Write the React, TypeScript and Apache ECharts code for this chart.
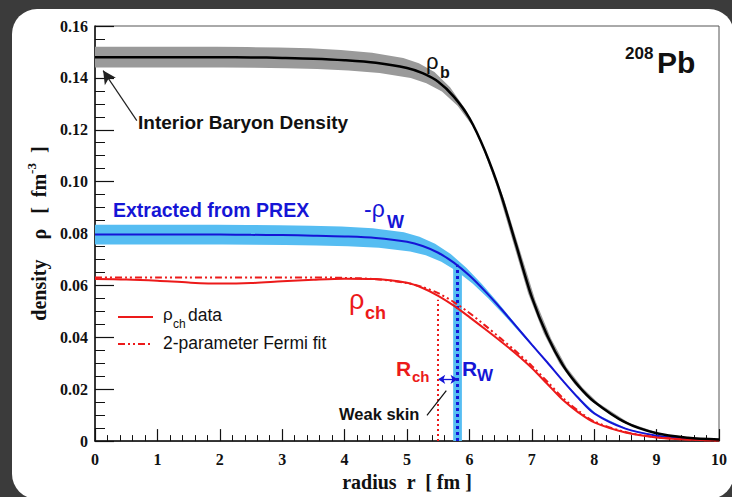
import React, { useEffect, useRef } from 'react';
import * as echarts from 'echarts';

// radius r [fm]
const radius = [0, 0.5, 1, 1.5, 2, 2.5, 3, 3.5, 4, 4.5, 5, 5.25, 5.5, 5.75, 6, 6.25, 6.5, 6.75, 7, 7.25, 7.5, 7.75, 8, 8.5, 9, 9.5, 10];
// interior baryon density rho_b
const baryon = [0.148, 0.148, 0.148, 0.148, 0.148, 0.1479, 0.1477, 0.1474, 0.1468, 0.1458, 0.1438, 0.1418, 0.1385, 0.1328, 0.1245, 0.1118, 0.0955, 0.0755, 0.0555, 0.0405, 0.0292, 0.0212, 0.0152, 0.0072, 0.003, 0.0013, 0.0006];
// -rho_W extracted from PREX
const weak = [0.0796, 0.0796, 0.0796, 0.0796, 0.0796, 0.0795, 0.0794, 0.0792, 0.0789, 0.0783, 0.0768, 0.0752, 0.0726, 0.0688, 0.0638, 0.0578, 0.0512, 0.0442, 0.0372, 0.0303, 0.0232, 0.0165, 0.0107, 0.0048, 0.0021, 0.0009, 0.0004];
// rho_ch data
const chargeData = [0.0625, 0.0623, 0.0618, 0.0611, 0.0607, 0.0609, 0.0616, 0.0622, 0.0626, 0.0625, 0.061, 0.059, 0.056, 0.0522, 0.0478, 0.0432, 0.0385, 0.0336, 0.0282, 0.022, 0.0158, 0.011, 0.0072, 0.0033, 0.0014, 0.0006, 0.0002];
// 2-parameter Fermi fit
const chargeFit = [0.0631, 0.0631, 0.0631, 0.0631, 0.0631, 0.0631, 0.0631, 0.0631, 0.0629, 0.0624, 0.0609, 0.0594, 0.057, 0.0536, 0.0494, 0.0446, 0.0396, 0.0345, 0.029, 0.0229, 0.0166, 0.0116, 0.0076, 0.0035, 0.0015, 0.0006, 0.0002];

const rCh = 5.5;
const rChTop = 0.0545;
const rW = 5.81;
const rWTop = 0.068;
const rWErr = 0.07;
const skinArrowY = 0.0238;

const BLUE = '#1515d6';
const RED = '#ec1a1a';
const SANS = '"Liberation Sans", Arial, sans-serif';
const SERIF = '"Liberation Serif", "Times New Roman", serif';

const pair = (ys: number[]) => radius.map((r, i) => [r, ys[i]]);

function band(ys: number[], f: number, dr: number, color: string) {
  return {
    type: 'custom',
    coordinateSystem: 'cartesian2d',
    clip: true,
    silent: true,
    z: 1,
    data: [[0, 0]],
    renderItem: (_p: any, api: any) => {
      const up = [api.coord([-0.5, ys[0] * (1 + f)])].concat(
        radius.map((r, i) => api.coord([r - dr, ys[i] * (1 + f)]))
      );
      const lo = [api.coord([-0.5, ys[0] * (1 - f)])].concat(
        radius.map((r, i) => api.coord([r + dr, ys[i] * (1 - f)]))
      ).reverse();
      return { type: 'polygon', shape: { points: up.concat(lo) }, style: { fill: color } };
    },
  };
}

function txt(x: number, y: number, text: string, font: string, fill: string) {
  return { type: 'text', x, y, z: 100, style: { text, font, fill, align: 'left', verticalAlign: 'top' } };
}

const SMOOTH = 0.3;

export default function App() {
  const ref = useRef<HTMLDivElement>(null);
  useEffect(() => {
    const chart = echarts.init(ref.current!, null, { renderer: 'svg' });
    chart.setOption({
      animation: false,
      backgroundColor: '#3b3b3b',
      grid: { left: 95, right: 13, top: 26, bottom: 53, show: true, borderColor: '#555', borderWidth: 1, backgroundColor: '#fff', z: 0 },
      xAxis: {
        type: 'value', min: 0, max: 10, interval: 1,
        name: 'radius  r  [ fm ]', nameLocation: 'middle', nameGap: 24,
        nameTextStyle: { fontFamily: SERIF, fontWeight: 'bold', fontSize: 20, color: '#111' },
        axisLine: { onZero: false, lineStyle: { color: '#111', width: 1.5 } },
        axisTick: { inside: true, length: 12, lineStyle: { color: '#111', width: 1.2 } },
        minorTick: { show: true, splitNumber: 5, length: 6, lineStyle: { color: '#111', width: 1 } },
        splitLine: { show: false },
        axisLabel: { fontFamily: SERIF, fontWeight: 'bold', fontSize: 16, color: '#111', margin: 10 },
      },
      yAxis: {
        type: 'value', min: 0, max: 0.16, interval: 0.02,
        name: '{a|density    ρ   [  fm}{s|-3}{a|  ]}', nameLocation: 'middle', nameGap: 44, nameRotate: 90,
        nameTextStyle: {
          rich: {
            a: { fontFamily: SERIF, fontWeight: 'bold', fontSize: 20, color: '#111', verticalAlign: 'bottom', lineHeight: 24 },
            s: { fontFamily: SERIF, fontWeight: 'bold', fontSize: 13, color: '#111', verticalAlign: 'top', lineHeight: 24 },
          },
        },
        axisLine: { onZero: false, lineStyle: { color: '#111', width: 1.5 } },
        axisTick: { inside: true, length: 19, lineStyle: { color: '#111', width: 1.2 } },
        minorTick: { show: true, splitNumber: 4, length: 10, lineStyle: { color: '#111', width: 1 } },
        splitLine: { show: false },
        axisLabel: {
          fontFamily: SERIF, fontWeight: 'bold', fontSize: 16, color: '#111', margin: 7,
          formatter: (v: number) => (v === 0 ? '0' : v.toFixed(2)),
        },
      },
      graphic: [
        { type: 'rect', z: -100, shape: { x: 12, y: 9, width: 722, height: 490, r: 25 }, style: { fill: '#ffffff' } },
        txt(426, 50, 'ρ', `22px ${SANS}`, '#111'),
        txt(440, 64, 'b', `bold 16px ${SANS}`, '#111'),
        txt(625, 45, '208', `bold 17px ${SANS}`, '#111'),
        txt(657, 47, 'Pb', `bold 30px ${SANS}`, '#111'),
        txt(138, 113, 'Interior Baryon Density', `bold 19px ${SANS}`, '#111'),
        txt(113, 200, 'Extracted from PREX', `bold 19.5px ${SANS}`, BLUE),
        txt(364, 197, '-ρ', `23px ${SANS}`, BLUE),
        txt(387, 213, 'W', `bold 18px ${SANS}`, BLUE),
        txt(349, 286, 'ρ', `27px ${SANS}`, RED),
        txt(365, 304, 'ch', `bold 18px ${SANS}`, RED),
        txt(396, 358, 'R', `bold 21px ${SANS}`, RED),
        txt(412, 369, 'ch', `bold 15px ${SANS}`, RED),
        txt(462, 358, 'R', `bold 21px ${SANS}`, BLUE),
        txt(477, 367, 'W', `bold 17px ${SANS}`, BLUE),
        txt(339, 405, 'Weak skin', `bold 16.5px ${SANS}`, '#111'),
        { type: 'line', z: 100, shape: { x1: 118, y1: 317, x2: 153, y2: 317 }, style: { stroke: RED, lineWidth: 2 } },
        { type: 'line', z: 100, shape: { x1: 118, y1: 344, x2: 153, y2: 344 }, style: { stroke: RED, lineWidth: 2, lineDash: [7, 3, 2, 3, 2, 3] } },
        txt(163, 306, 'ρ', `17px ${SANS}`, '#111'),
        txt(173, 318, 'ch', `12px ${SANS}`, '#111'),
        txt(188, 306, 'data', `17.5px ${SANS}`, '#111'),
        txt(163, 334, '2-parameter Fermi fit', `17.5px ${SANS}`, '#111'),
      ],
      series: [
        band(baryon, 0.027, 0.06, '#9a9a9a'),
        { ...band(weak, 0.048, 0.05, '#56bdf2') },
        {
          type: 'line', data: pair(weak), showSymbol: false, symbol: 'none', smooth: SMOOTH, z: 3,
          lineStyle: { color: BLUE, width: 2 },
          markArea: {
            silent: true,
            itemStyle: { color: '#56bdf2', opacity: 1 },
            data: [[{ coord: [rW - rWErr, 0] }, { coord: [rW + rWErr, rWTop] }]],
          },
          markLine: {
            silent: true, animation: false, label: { show: false },
            data: [
              [
                { coord: [rW, 0], symbol: 'none', lineStyle: { color: BLUE, width: 3, type: [3, 3] } },
                { coord: [rW, rWTop], symbol: 'none' },
              ],
              [
                { coord: [rCh, skinArrowY], symbol: 'arrow', symbolSize: [7, 7], lineStyle: { color: BLUE, width: 1.3, type: 'solid' } },
                { coord: [rW, skinArrowY], symbol: 'arrow', symbolSize: [7, 7] },
              ],
            ],
          },
        },
        {
          type: 'line', data: pair(chargeFit), showSymbol: false, symbol: 'none', smooth: SMOOTH, z: 4,
          lineStyle: { color: RED, width: 2, type: [7, 3, 2, 3, 2, 3] },
        },
        {
          type: 'line', data: pair(chargeData), showSymbol: false, symbol: 'none', smooth: SMOOTH, z: 5,
          lineStyle: { color: RED, width: 2 },
          markLine: {
            silent: true, animation: false, label: { show: false }, symbol: 'none',
            data: [
              [
                { coord: [rCh, 0], lineStyle: { color: RED, width: 2, type: [2, 3] } },
                { coord: [rCh, rChTop] },
              ],
            ],
          },
        },
        {
          type: 'line', data: pair(baryon), showSymbol: false, symbol: 'none', smooth: SMOOTH, z: 6,
          lineStyle: { color: '#000', width: 2.5 },
          markLine: {
            silent: true, animation: false, label: { show: false },
            data: [
              [
                { coord: [0.67, 0.1235], symbol: 'none', lineStyle: { color: '#222', width: 1.2, type: 'solid' } },
                { coord: [0.13, 0.1428], symbol: 'arrow', symbolSize: [10, 13] },
              ],
              [
                { coord: [5.32, 0.0099], symbol: 'none', lineStyle: { color: '#111', width: 1.2, type: 'solid' } },
                { coord: [5.63, 0.0195], symbol: 'none' },
              ],
            ],
          },
        },
      ],
    });
    return () => chart.dispose();
  }, []);
  return <div ref={ref} style={{ position: 'fixed', left: 0, top: 0, width: 732, height: 497 }} />;
}
